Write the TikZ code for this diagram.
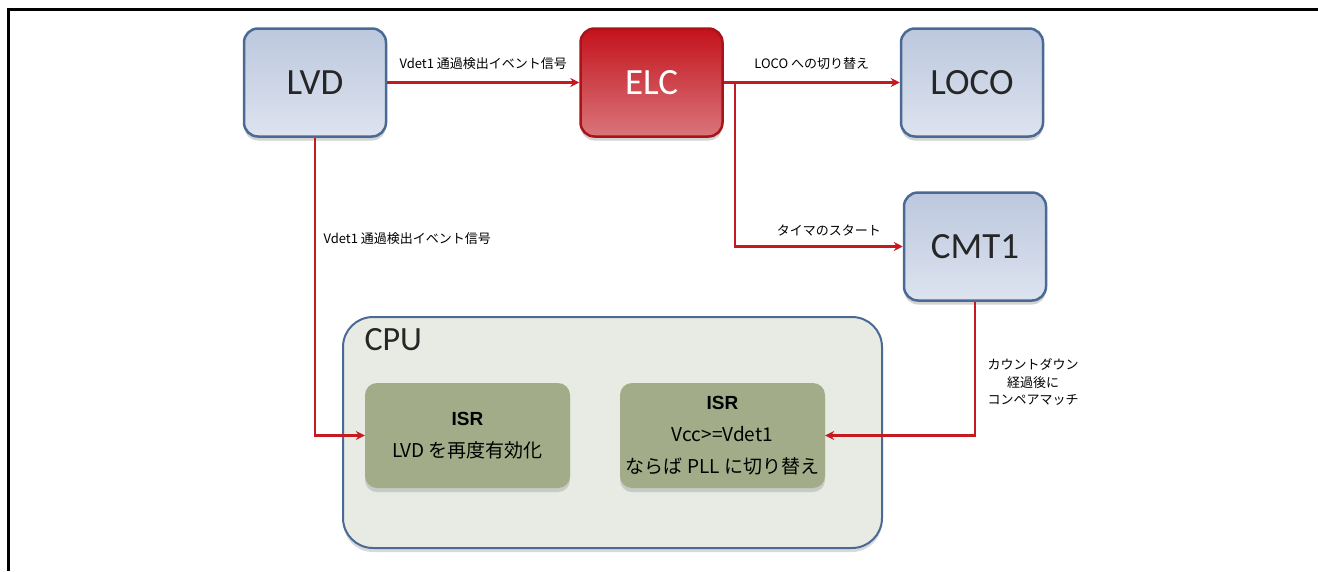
\documentclass[tikz,border=0pt]{standalone}
\usepackage{fontspec}
\setmainfont{Carlito}
\newfontfamily\jp{Noto Sans CJK JP}
\newfontfamily\lsans{Liberation Sans}
\usepackage{tikz}
\usetikzlibrary{positioning,arrows.meta,shadows}
\definecolor{blkline}{HTML}{4A6A94}
\definecolor{blkfill}{HTML}{BCC8DE}
\definecolor{blklight}{HTML}{DDE3EF}
\definecolor{elcred}{HTML}{C4121C}
\definecolor{elcline}{HTML}{A8141A}
\definecolor{elcpink}{HTML}{D9767B}
\definecolor{sigred}{HTML}{C41A22}
\definecolor{cpufill}{HTML}{E7EBE4}
\definecolor{isrfill}{HTML}{A3AC88}
\tikzset{%
  every block/.style={
    rounded corners=14pt,
    minimum width=142pt,
    minimum height=108pt,
    font=\fontsize{37}{40}\selectfont,
    drop shadow={shadow xshift=0pt,shadow yshift=-4pt,opacity=0.35}
  },
  unit/.style={
    every block,
    draw=blkline,
    line width=2.5pt,
    text=black!85,
    top color=blkfill,
    bottom color=blklight
  },
  hub/.style={
    every block,
    draw=elcline,
    line width=2.5pt,
    text=white,
    top color=elcred,
    bottom color=elcpink
  },
  isr/.style={
    rounded corners=12pt,
    fill=isrfill,
    minimum width=205pt,
    minimum height=105pt,
    align=center,
    font=\jp\fontsize{19}{32}\selectfont,
    drop shadow={shadow xshift=0pt,shadow yshift=-4pt,opacity=0.3}
  },
}

\begin{document}
\begin{tikzpicture}[x=1pt,y=-1pt,>={Stealth[length=9pt,width=9pt,inset=3pt]},font=\jp\fontsize{13}{17.5}\selectfont]
  \tikzstyle{sig}=[->,draw=sigred,line width=2.5pt]

  \useasboundingbox (0,0) rectangle (1318,571);
  \draw[line width=3pt] (8.5,571) -- (8.5,9.5) -- (1318,9.5);

  \node[unit] (lvd) at (315,82.5) {LVD};
  \node[hub,right=192pt of lvd] (elc) {ELC};
  \node[unit,right=176pt of elc] (loco) {LOCO};
  \node[unit] (cmt) at (975,246.5) {CMT1};

  \node[rounded corners=30pt,draw=blkline,line width=2pt,fill=cpufill,
        minimum width=539pt,minimum height=231pt,
        drop shadow={shadow xshift=0pt,shadow yshift=-4pt,opacity=0.3}] (cpu) at (612.5,432.5) {};
  \node[anchor=base west,font=\fontsize{34}{36}\selectfont,text=black!85] (cpulbl) at (361,350) {CPU};

  \node[isr] (isra) at (467.5,435.5) {{\lsans\bfseries ISR}\\LVD を再度有効化};
  \node[isr] (isrb) at (722.5,435.5) {{\lsans\bfseries ISR}\\Vcc>=Vdet1\\ならば PLL に切り替え};

  \coordinate (br) at ([xshift=11pt]elc.east);

  \draw[sig] (lvd) -- node[above=8pt] {Vdet1 通過検出イベント信号} (elc);
  \draw[sig] (elc) -- node[above=8pt] {LOCO への切り替え} (loco);
  \draw[sig] (br) |- node[pos=0.78,above=6pt] {タイマのスタート} (cmt);
  \draw[sig] (lvd.south) |- node[pos=0.17,right=4pt] {Vdet1 通過検出イベント信号} (isra);
  \draw[sig] (cmt.south) |- node[pos=0.3,right=8pt,align=center] {カウントダウン\\経過後に\\コンペアマッチ} (isrb);
\end{tikzpicture}
\end{document}
